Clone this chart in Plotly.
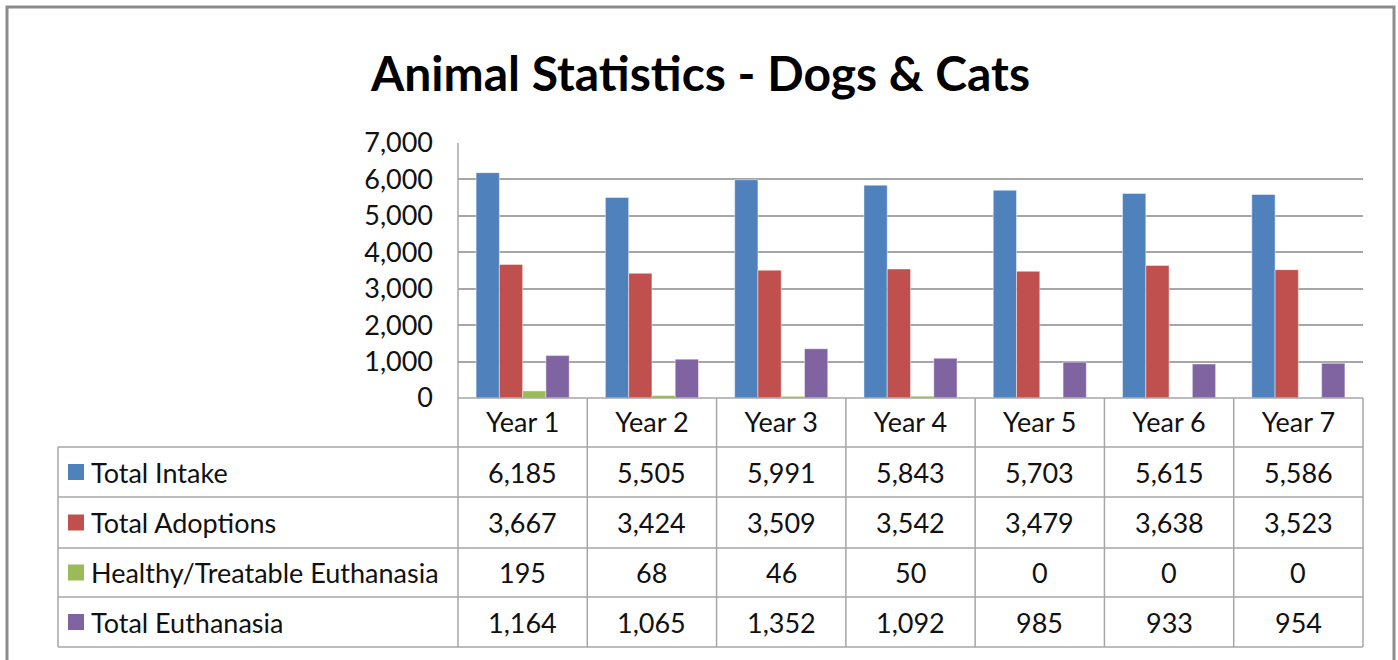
import plotly.graph_objects as go

W, H = 1398, 660

categories = ["Year 1", "Year 2", "Year 3", "Year 4", "Year 5", "Year 6", "Year 7"]
series_names = ["Total Intake", "Total Adoptions", "Healthy/Treatable Euthanasia", "Total Euthanasia"]
total_intake = [6185, 5505, 5991, 5843, 5703, 5615, 5586]
total_adoptions = [3667, 3424, 3509, 3542, 3479, 3638, 3523]
healthy_euth = [195, 68, 46, 50, 0, 0, 0]
total_euth = [1164, 1065, 1352, 1092, 985, 933, 954]
y_ticks = [0, 1000, 2000, 3000, 4000, 5000, 6000, 7000]

series_values = [total_intake, total_adoptions, healthy_euth, total_euth]
colors = ["#4F81BD", "#C0504D", "#9BBB59", "#8064A2"]

FONT = "Lato"
FS = 27
TXT = "#111111"
GRID = "#A6A6A6"

def px(x):
    return x / W

def py(y):
    return 1 - y / H

# layout geometry (pixels)
PL, PR, PT, PB = 458, 1363, 143, 398
TL = 58
row_edges = [398, 447, 497, 548, 597, 647]

fig = go.Figure()
for name, vals, col in zip(series_names, series_values, colors):
    fig.add_trace(go.Bar(
        x=categories, y=vals, name=name,
        marker=dict(color=col, line=dict(color="rgba(255,255,255,0.45)", width=1)),
        showlegend=False,
    ))

shapes = []
line = dict(color=GRID, width=1.5)
# outer chart border
shapes.append(dict(type="rect", xref="paper", yref="paper",
                   x0=px(7), x1=px(1394), y0=py(700), y1=py(7),
                   line=dict(color="#8C8C8C", width=3)))
# horizontal table lines
shapes.append(dict(type="line", xref="paper", yref="paper",
                   x0=px(PL), x1=px(PR), y0=py(row_edges[0]), y1=py(row_edges[0]), line=line))
for ry in row_edges[1:]:
    shapes.append(dict(type="line", xref="paper", yref="paper",
                       x0=px(TL), x1=px(PR), y0=py(ry), y1=py(ry), line=line))
# left table border
shapes.append(dict(type="line", xref="paper", yref="paper",
                   x0=px(TL), x1=px(TL), y0=py(row_edges[1]), y1=py(row_edges[-1]), line=line))
# value axis / label column divider
shapes.append(dict(type="line", xref="paper", yref="paper",
                   x0=px(PL), x1=px(PL), y0=py(PT), y1=py(row_edges[-1]), line=line))
# category dividers
for i in range(1, len(categories)):
    shapes.append(dict(type="line", xref="x", yref="paper",
                       x0=i - 0.5, x1=i - 0.5, y0=py(row_edges[0]), y1=py(row_edges[-1]), line=line))
shapes.append(dict(type="line", xref="paper", yref="paper",
                   x0=px(PR), x1=px(PR), y0=py(row_edges[0]), y1=py(row_edges[-1]), line=line))

annotations = []
annotations.append(dict(text="<b>Animal Statistics - Dogs &amp; Cats</b>", xref="paper", yref="paper",
                        x=px(700), y=py(72), xanchor="center", yanchor="middle", showarrow=False,
                        font=dict(family=FONT, size=48, color="#000000")))
for r, (name, vals, col) in enumerate(zip(series_names, series_values, colors)):
    top, bot = row_edges[r + 1], row_edges[r + 2]
    cy = (top + bot) / 2
    shapes.append(dict(type="rect", xref="paper", yref="paper",
                       x0=px(68), x1=px(84), y0=py(cy - 8), y1=py(cy + 8),
                       fillcolor=col, line=dict(width=0)))
    annotations.append(dict(text=name, xref="paper", yref="paper", x=px(89), y=py(cy),
                            xanchor="left", yanchor="middle", showarrow=False,
                            font=dict(family=FONT, size=FS, color=TXT)))
    for c, v in zip(categories, vals):
        annotations.append(dict(text=f"{v:,}", xref="x", yref="paper", x=c, y=py(cy),
                                xanchor="center", yanchor="middle", showarrow=False,
                                font=dict(family=FONT, size=FS, color=TXT)))

fig.update_layout(
    template="none",
    width=W, height=H,
    margin=dict(l=0, r=0, t=0, b=0, pad=0),
    paper_bgcolor="white", plot_bgcolor="white",
    barmode="group", bargap=0.28, bargroupgap=0,
    shapes=shapes, annotations=annotations,
    xaxis=dict(domain=[px(PL), px(PR)], type="category", showgrid=False, showline=False,
               ticks="", tickfont=dict(family=FONT, size=FS, color=TXT),
               ticklabelstandoff=6, zeroline=False, automargin=False),
    yaxis=dict(domain=[py(PB), py(PT)], range=[0, 7000], tickvals=y_ticks,
               tickformat=",", showgrid=True, gridcolor=GRID, gridwidth=1.5,
               zeroline=False, showline=False, ticks="", automargin=False,
               tickfont=dict(family=FONT, size=FS, color=TXT), ticklabelstandoff=24),
    font=dict(family=FONT),
)

fig.write_html("out.html", config={"displayModeBar": False},
               post_script="document.body.style.margin='0';")
